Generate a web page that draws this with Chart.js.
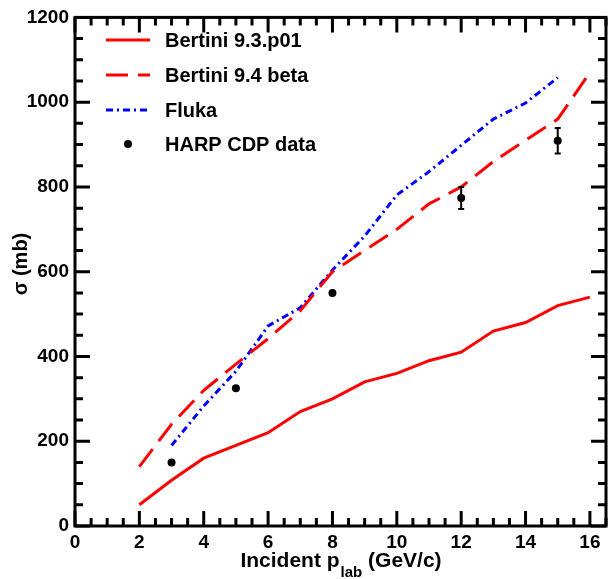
<!DOCTYPE html>
<html>
<head>
<meta charset="utf-8">
<script src="https://cdn.jsdelivr.net/npm/chart.js@4.4.1/dist/chart.umd.min.js"></script>
<style>
  html, body { margin: 0; padding: 0; background: #fff; }
  canvas { display: block; }
</style>
</head>
<body>
<canvas id="c" width="610" height="579"></canvas>
<script>
// momentum values (GeV/c)
const bertini93X = [2, 3, 4, 5, 6, 7, 8, 9, 10, 11, 12, 13, 14, 15, 16];
const bertini93Y = [50, 108, 160, 190, 220, 270, 300, 340, 360, 390, 410, 460, 480, 520, 540];
const bertini94X = [2, 3, 4, 5, 6, 7, 8, 9, 10, 11, 12, 13, 14, 15, 16];
const bertini94Y = [140, 240, 320, 382, 442, 508, 600, 650, 700, 760, 800, 860, 910, 960, 1070];
const flukaX = [3, 4, 5, 6, 7, 8, 9, 10, 11, 12, 13, 14, 15];
const flukaY = [190, 283, 365, 472, 515, 604, 684, 781, 836, 898, 960, 998, 1058];
const harpX = [3, 5, 8, 12, 15];
const harpY = [150, 325, 550, 774, 909];
const harpErr = [0, 0, 0, 26, 30];

const xTicks = [0, 2, 4, 6, 8, 10, 12, 14, 16];
const yTicks = [0, 200, 400, 600, 800, 1000, 1200];

const FONT = '"Liberation Sans", Arial, sans-serif';

const toPts = (xs, ys) => xs.map((x, i) => ({ x: x, y: ys[i] }));

// frame, inward ticks, error bars, legend and axis titles
const decorations = {
  id: 'decorations',
  afterDatasetsDraw(chart) {
    const ctx = chart.ctx;
    const { left, right, top, bottom } = chart.chartArea;
    const xs = chart.scales.x, ys = chart.scales.y;

    // error bars
    ctx.save();
    ctx.strokeStyle = '#000';
    ctx.lineWidth = 2;
    harpX.forEach((x, i) => {
      if (!harpErr[i]) return;
      const px = xs.getPixelForValue(x);
      const y1 = ys.getPixelForValue(harpY[i] - harpErr[i]);
      const y2 = ys.getPixelForValue(harpY[i] + harpErr[i]);
      ctx.beginPath();
      ctx.moveTo(px, y1); ctx.lineTo(px, y2);
      ctx.moveTo(px - 3, y1); ctx.lineTo(px + 3, y1);
      ctx.moveTo(px - 3, y2); ctx.lineTo(px + 3, y2);
      ctx.stroke();
    });
    ctx.restore();

    // ticks
    ctx.save();
    ctx.strokeStyle = '#000';
    ctx.lineWidth = 3;
    ctx.beginPath();
    for (let v = 0; v <= 16.5; v += 0.5) {
      const px = xs.getPixelForValue(v);
      const len = (v % 2 === 0) ? 15 : 8;
      ctx.moveTo(px, bottom); ctx.lineTo(px, bottom - len);
      ctx.moveTo(px, top); ctx.lineTo(px, top + len);
    }
    for (let v = 0; v <= 1200; v += 50) {
      const py = ys.getPixelForValue(v);
      const len = (v % 200 === 0) ? 15 : 8;
      ctx.moveTo(left, py); ctx.lineTo(left + len, py);
      ctx.moveTo(right, py); ctx.lineTo(right - len, py);
    }
    ctx.stroke();
    ctx.strokeRect(left, top, right - left, bottom - top);
    ctx.restore();

    // legend
    ctx.save();
    ctx.font = 'bold 20px ' + FONT;
    ctx.textBaseline = 'middle';
    ctx.fillStyle = '#000';
    const rows = [40, 75, 110, 144];
    chart.data.datasets.forEach((ds, i) => {
      const y = rows[i];
      if (ds.showLine === false) {
        ctx.beginPath();
        ctx.arc(128, y, 4, 0, Math.PI * 2);
        ctx.fill();
      } else {
        ctx.beginPath();
        ctx.strokeStyle = ds.borderColor;
        ctx.lineWidth = ds.borderWidth;
        ctx.setLineDash(ds.borderDash || []);
        ctx.moveTo(106, y); ctx.lineTo(150, y);
        ctx.stroke();
        ctx.setLineDash([]);
      }
      ctx.fillText(ds.label, 165, y + 1);
    });
    ctx.restore();

    // axis titles
    ctx.save();
    ctx.fillStyle = '#000';
    ctx.textBaseline = 'alphabetic';
    const main = 'Incident p', sub = 'lab', tail = ' (GeV/c)';
    ctx.font = 'bold 21px ' + FONT;
    const w1 = ctx.measureText(main).width, w3 = ctx.measureText(tail).width;
    ctx.font = 'bold 15px ' + FONT;
    const w2 = ctx.measureText(sub).width;
    const x0 = (left + right) / 2 - (w1 + w2 + w3) / 2;
    ctx.font = 'bold 21px ' + FONT;
    ctx.fillText(main, x0, 567);
    ctx.font = 'bold 15px ' + FONT;
    ctx.fillText(sub, x0 + w1 + 1, 577);
    ctx.font = 'bold 21px ' + FONT;
    ctx.fillText(tail, x0 + w1 + w2 + 1, 567);

    ctx.translate(27, 264);
    ctx.rotate(-Math.PI / 2);
    ctx.textAlign = 'center';
    ctx.font = 'bold 20px ' + FONT;
    ctx.fillText('σ (mb)', 0, 0);
    ctx.restore();
  }
};

new Chart(document.getElementById('c'), {
  type: 'scatter',
  data: {
    datasets: [
      {
        label: 'Bertini 9.3.p01',
        data: toPts(bertini93X, bertini93Y),
        showLine: true,
        borderColor: '#ff0000',
        borderWidth: 3,
        pointRadius: 0,
        tension: 0
      },
      {
        label: 'Bertini 9.4 beta',
        data: toPts(bertini94X, bertini94Y),
        showLine: true,
        borderColor: '#ff0000',
        borderWidth: 3,
        borderDash: [22, 10],
        pointRadius: 0,
        tension: 0
      },
      {
        label: 'Fluka',
        data: toPts(flukaX, flukaY),
        showLine: true,
        borderColor: '#0000ff',
        borderWidth: 3,
        borderDash: [7, 4, 2, 4],
        pointRadius: 0,
        tension: 0
      },
      {
        label: 'HARP CDP data',
        data: toPts(harpX, harpY),
        showLine: false,
        backgroundColor: '#000',
        borderColor: '#000',
        pointRadius: 4,
        pointBorderWidth: 0
      }
    ]
  },
  options: {
    responsive: false,
    animation: false,
    devicePixelRatio: 1,
    layout: { padding: { top: 13, right: 3, left: 0, bottom: 0 } },
    plugins: {
      legend: { display: false },
      tooltip: { enabled: false }
    },
    scales: {
      x: {
        type: 'linear',
        min: 0,
        max: 16.5,
        afterFit: s => { s.height = 53; },
        afterBuildTicks: s => { s.ticks = xTicks.map(v => ({ value: v })); },
        grid: { display: false, drawTicks: false },
        border: { display: false },
        ticks: {
          padding: 5,
          color: '#000',
          maxRotation: 0,
          autoSkip: false,
          callback: v => String(v),
          font: { family: FONT, size: 19, weight: 'bold' }
        }
      },
      y: {
        type: 'linear',
        min: 0,
        max: 1200,
        afterFit: s => { s.width = 75; },
        afterBuildTicks: s => { s.ticks = yTicks.map(v => ({ value: v })); },
        grid: { display: false, drawTicks: false },
        border: { display: false },
        ticks: {
          padding: 6,
          color: '#000',
          callback: v => String(v),
          font: { family: FONT, size: 19, weight: 'bold' }
        }
      }
    }
  },
  plugins: [decorations]
});
</script>
</body>
</html>
